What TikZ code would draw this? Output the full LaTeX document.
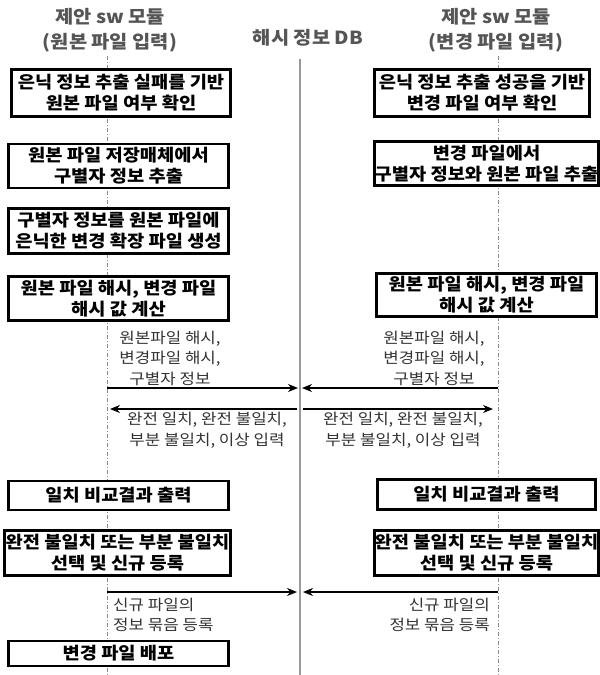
\documentclass[tikz,border=0pt]{standalone}
\usepackage{fontspec}
\setmainfont{Noto Sans CJK KR}
\newfontfamily\widefont{Noto Sans CJK KR}[FakeStretch=1.1]
\newfontfamily\lblfont{Noto Sans CJK KR}[FakeStretch=1.12]
\usetikzlibrary{arrows.meta}
\definecolor{hdr}{HTML}{555555}
\definecolor{lbl}{HTML}{333333}
\definecolor{life}{HTML}{8C8C8C}
\definecolor{dbline}{HTML}{9A9A9A}
\begin{document}
\begin{tikzpicture}[x=1pt,y=-1pt,
  box/.style={draw=black, line width=2.8pt, fill=white, align=center, inner sep=0pt,
    font=\widefont\bfseries\fontsize{17}{21}\selectfont},
  hdrtext/.style={text=hdr, align=center, font=\widefont\bfseries\fontsize{18}{25}\selectfont},
  lbltext/.style={text=lbl, align=center, inner sep=0pt, font=\lblfont\fontsize{15}{20.5}\selectfont},
  lifeline/.style={draw=life, line width=0.8pt, dash pattern=on 4pt off 2pt on 1pt off 2pt},
  msg/.style={draw=black, line width=1.6pt, -{Stealth[length=10pt,width=8pt]}}
]
\useasboundingbox (0,0) rectangle (600,675);
\fill[white] (0,0) rectangle (600,675);

% headers
\node[hdrtext] (hL) at (110,30) {제안 sw 모듈\\(원본 파일 입력)};
\node[hdrtext] (hR) at (496,30) {제안 sw 모듈\\(변경 파일 입력)};
\node[hdrtext] (hD) at (308,38) {해시 정보 DB};

% lifelines
\coordinate (LT) at (107,56);
\coordinate (LB) at (107,675);
\coordinate (RT) at (498,56);
\coordinate (RB) at (498,675);
\coordinate (DT) at (300,59);
\coordinate (DB) at (300,675);
\draw[lifeline] (LT) -- (LB);
\draw[lifeline] (RT) -- (RB);
\draw[draw=dbline, line width=1.6pt] (DT) -- (DB);

% left boxes
\node[box, minimum width=219pt, minimum height=47pt] (L1) at (121,93) {은닉 정보 추출 실패를 기반\\원본 파일 여부 확인};
\node[box, minimum width=220pt, minimum height=44pt] (L2) at (118.5,166) {원본 파일 저장매체에서\\구별자 정보 추출};
\node[box, minimum width=220pt, minimum height=45pt] (L3) at (118.5,231) {구별자 정보를 원본 파일에\\은닉한 변경 확장 파일 생성};
\node[box, minimum width=220pt, minimum height=44pt] (L4) at (118.5,298.5) {원본 파일 해시, 변경 파일\\해시 값 계산};
\node[box, minimum width=220pt, minimum height=29pt] (L5) at (118.5,495.5) {일치 비교결과 출력};
\node[box, minimum width=226pt, minimum height=45pt] (L6) at (117.5,553) {완전 불일치 또는 부분 불일치\\선택 및 신규 등록};
\node[box, minimum width=220pt, minimum height=25pt] (L7) at (118.5,653.5) {변경 파일 배포};

% right boxes
\node[box, minimum width=215pt, minimum height=47pt] (R1) at (482,93) {은닉 정보 추출 성공을 기반\\변경 파일 여부 확인};
\node[box, minimum width=220pt, minimum height=44pt] (R2) at (486.5,163.5) {변경 파일에서\\구별자 정보와 원본 파일 추출};
\node[box, minimum width=220pt, minimum height=43pt] (R4) at (486.5,295) {원본 파일 해시, 변경 파일\\해시 값 계산};
\node[box, minimum width=218pt, minimum height=30pt] (R5) at (486.5,494.5) {일치 비교결과 출력};
\node[box, minimum width=218pt, minimum height=45pt] (R6) at (486.5,553) {완전 불일치 또는 부분 불일치\\선택 및 신규 등록};

% messages
\coordinate (m1a) at (107,388);
\coordinate (m1b) at (298,388);
\coordinate (m2a) at (297,409);
\coordinate (m2b) at (110,409);
\coordinate (m3a) at (498,388);
\coordinate (m3b) at (302,388);
\coordinate (m4a) at (303,409);
\coordinate (m4b) at (493,409);
\coordinate (m5a) at (107,592);
\coordinate (m5b) at (297,592);
\coordinate (m6a) at (498,592);
\coordinate (m6b) at (303,592);
\draw[msg] (m1a) -- (m1b);
\draw[msg] (m2a) -- (m2b);
\draw[msg] (m3a) -- (m3b);
\draw[msg] (m4a) -- (m4b);
\draw[msg] (m5a) -- (m5b);
\draw[msg] (m6a) -- (m6b);

% labels
\node[lbltext] (t1) at (170,358) {원본파일 해시,\\변경파일 해시,\\구별자 정보};
\node[lbltext] (t2) at (207,430) {완전 일치, 완전 불일치,\\부분 불일치, 이상 입력};
\node[lbltext] (t3) at (434,358) {원본파일 해시,\\변경파일 해시,\\구별자 정보};
\node[lbltext] (t4) at (403,430) {완전 일치, 완전 불일치,\\부분 불일치, 이상 입력};
\node[lbltext, align=left, anchor=west] (t5) at (113,615) {신규 파일의\\정보 묶음 등록};
\node[lbltext, align=right, anchor=east] (t6) at (490,615) {신규 파일의\\정보 묶음 등록};
\end{tikzpicture}
\end{document}
